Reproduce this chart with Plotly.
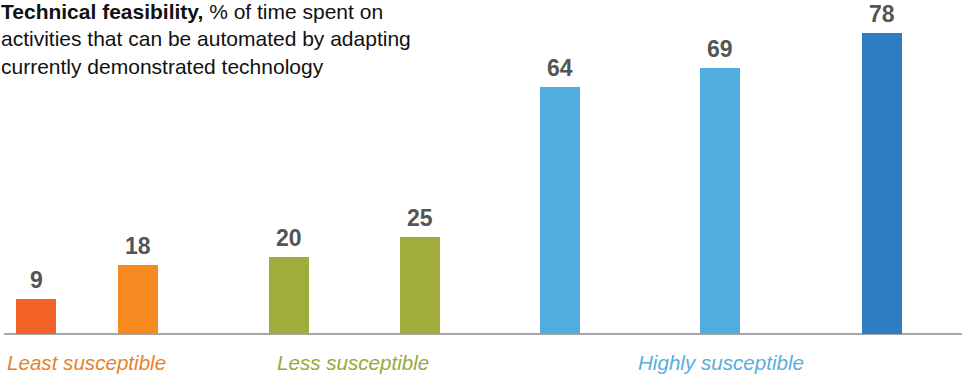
import plotly.graph_objects as go

# Share of time spent on activities that can be automated, by occupation group
values = [9, 18, 20, 25, 64, 69, 78]
positions = [3.6, 13.75, 28.9, 42.0, 56.0, 72.0, 88.2]
bar_colors = ["#F26227", "#F68A20", "#A1AD3A", "#A1AD3A", "#4FADDF", "#4FADDF", "#2E7DC2"]

group_labels = ["Least susceptible", "Less susceptible", "Highly susceptible"]
group_centers = [8.6, 35.3, 72.1]
group_colors = ["#E8822A", "#9AA83A", "#5AAEDD"]

FONT = "Liberation Sans, Arial, Helvetica, sans-serif"

fig = go.Figure(
    go.Bar(
        x=positions,
        y=values,
        width=4.0,
        marker=dict(color=bar_colors, line=dict(width=0)),
        hoverinfo="skip",
    )
)

# value labels above each bar
for px, v in zip(positions, values):
    fig.add_annotation(
        x=px, xref="x", y=v, yref="y", yanchor="bottom", yshift=4,
        text=f"<b>{v}</b>", showarrow=False,
        font=dict(family=FONT, size=23, color="#555555"),
    )

for label, cx, col in zip(group_labels, group_centers, group_colors):
    fig.add_annotation(
        x=cx, xref="x", y=0, yref="y", yanchor="top", yshift=-15,
        text=f"<i>{label}</i>", showarrow=False,
        font=dict(family=FONT, size=20.6, color=col),
    )

fig.add_annotation(
    x=0, xref="paper", y=1, yref="paper", xanchor="left", yanchor="top",
    xshift=-5, yshift=2, align="left", showarrow=False,
    text=("<b>Technical feasibility,</b> % of time spent on<br>"
          "activities that can be automated by adapting<br>"
          "currently demonstrated technology"),
    font=dict(family=FONT, size=21, color="#111111"),
)

fig.update_layout(
    width=962, height=379,
    margin=dict(l=4, r=0, t=0, b=45),
    paper_bgcolor="white", plot_bgcolor="white",
    showlegend=False,
    xaxis=dict(range=[0.4, 96.2], showgrid=False, zeroline=False,
               showticklabels=False, showline=False, fixedrange=True),
    yaxis=dict(range=[0, 86.5], showgrid=False, zeroline=True,
               zerolinecolor="#A6A6A6", zerolinewidth=2,
               showticklabels=False, showline=False, fixedrange=True),
    bargap=0,
)

fig.write_html("out.html")
